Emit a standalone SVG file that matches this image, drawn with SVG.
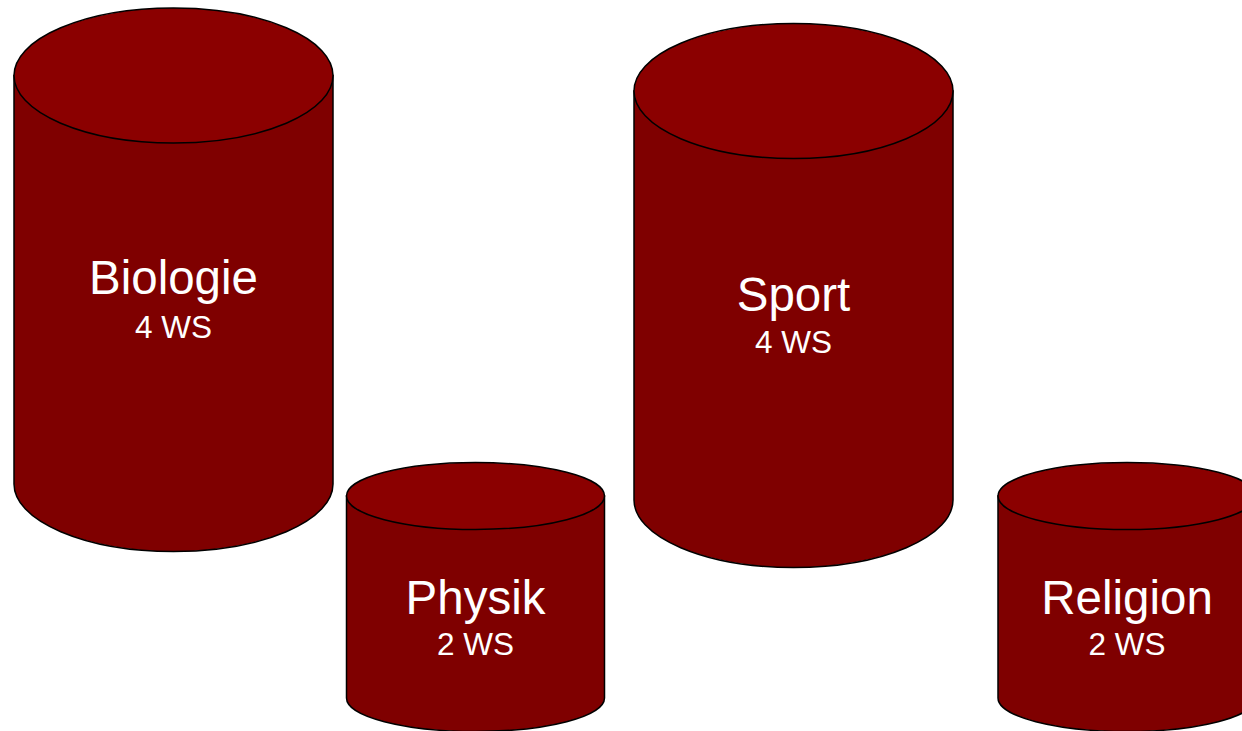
<svg xmlns="http://www.w3.org/2000/svg" width="1242" height="731" viewBox="0 0 1242 731">
<style>
.body{fill:#7f0000;stroke:#000;stroke-width:1.5}
.top{fill:#8b0000;stroke:#000;stroke-width:1.5}
.t1{font-family:"Liberation Sans",Arial,sans-serif;font-size:47.5px;fill:#fff;text-anchor:middle}
.t2{font-family:"Liberation Sans",Arial,sans-serif;font-size:31.5px;fill:#fff;text-anchor:middle}
</style>
<rect width="1242" height="731" fill="#fff"/>
<g id="biologie">
<path class="body" d="M14,75.5 L14,484 A159.5,67.5 0 0 0 333,484 L333,75.5 Z"/>
<ellipse class="top" cx="173.5" cy="75.5" rx="159.5" ry="67.5"/>
<text class="t1" x="173.5" y="294">Biologie</text>
<text class="t2" x="173.5" y="337.5">4 WS</text>
</g>
<g id="physik">
<path class="body" d="M346.5,496 L346.5,698 A129,33.5 0 0 0 604.5,698 L604.5,496 Z"/>
<ellipse class="top" cx="475.5" cy="496" rx="129" ry="33.5"/>
<text class="t1" x="475.5" y="614">Physik</text>
<text class="t2" x="475.5" y="655">2 WS</text>
</g>
<g id="sport">
<path class="body" d="M634,91 L634,500 A159.5,67.5 0 0 0 953,500 L953,91 Z"/>
<ellipse class="top" cx="793.5" cy="91" rx="159.5" ry="67.5"/>
<text class="t1" x="793.5" y="311">Sport</text>
<text class="t2" x="793.5" y="352.5">4 WS</text>
</g>
<g id="religion">
<path class="body" d="M998,496 L998,698 A129,33.5 0 0 0 1256,698 L1256,496 Z"/>
<ellipse class="top" cx="1127" cy="496" rx="129" ry="33.5"/>
<text class="t1" x="1127" y="614">Religion</text>
<text class="t2" x="1127" y="655">2 WS</text>
</g>
<g id="connectors"/>
</svg>
